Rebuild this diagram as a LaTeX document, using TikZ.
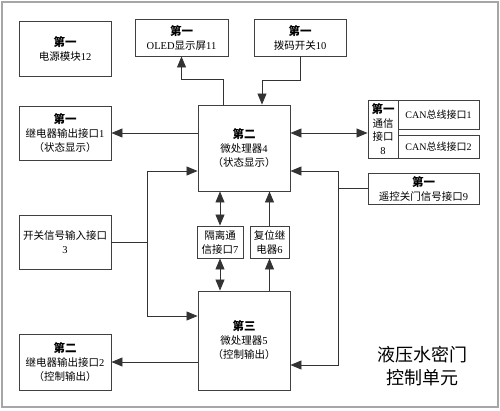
\documentclass[tikz,border=0pt]{standalone}
\usepackage{fontspec}
\setmainfont{Liberation Serif}
\newfontfamily\cjk{Noto Sans CJK SC}
\usetikzlibrary{arrows.meta}
\newcommand\hd[1]{{\fontsize{11.5}{14}\selectfont\bfseries #1}}
\newcommand\lt[1]{{\rmfamily #1}}
\tikzset{
 box/.style={draw=black!75, line width=0.9pt, fill=white, inner sep=0pt, align=center,
   font=\cjk\fontsize{10.5}{14}\selectfont, text=black},
 ln/.style={draw=black!80, line width=0.8pt},
 arr/.style={ln, -{Triangle[length=11pt,width=9pt]}},
 darr/.style={ln, {Triangle[length=11pt,width=9pt]}-{Triangle[length=11pt,width=9pt]}},
}
\begin{document}
\begin{tikzpicture}[x=1pt,y=-1pt]
\useasboundingbox (0,0) rectangle (500,410);
\draw[black!35, line width=1.5pt] (2,2) rectangle (498,407);

% boxes
\node[box, minimum width=92pt, minimum height=55pt] (n12) at (65,48.5) {\hd{第一}\\电源模块\lt{12}};
\node[box, minimum width=93pt, minimum height=37pt] (n11) at (181.5,37.5) {\hd{第一}\\\lt{OLED}显示屏\lt{11}};
\node[box, minimum width=92pt, minimum height=37pt] (n10) at (300,37.5) {\hd{第一}\\拨码开关\lt{10}};
\node[box, minimum width=92pt, minimum height=54pt] (n1) at (65,133) {\hd{第一}\\继电器输出接口\lt{1}\\（状态显示）};
\node[box, minimum width=92pt, minimum height=86pt] (n4) at (244,148) {\hd{第二}\\微处理器\lt{4}\\（状态显示）};
\node[box, minimum width=30pt, minimum height=58pt, font=\cjk\fontsize{10.5}{13.5}\selectfont] (n8) at (383,129) {\hd{第一}\\通信\\接口\\\lt{8}};
\node[box, minimum width=81pt, minimum height=29pt, font=\cjk\fontsize{10}{13}\selectfont] (can1) at (438.5,114.5) {\lt{CAN}总线接口\lt{1}};
\node[box, minimum width=81pt, minimum height=23pt, font=\cjk\fontsize{10}{13}\selectfont] (can2) at (438.5,146.5) {\lt{CAN}总线接口\lt{2}};
\node[box, minimum width=111pt, minimum height=31pt] (n9) at (423.5,188.5) {\hd{第一}\\遥控关门信号接口\lt{9}};
\node[box, minimum width=92pt, minimum height=54pt] (n3) at (65,242) {开关信号输入接口\\\lt{3}};
\node[box, minimum width=46pt, minimum height=32pt] (n7) at (220,242) {隔离通\\信接口\lt{7}};
\node[box, minimum width=39pt, minimum height=32pt] (n6) at (269.5,242) {复位继\\电器\lt{6}};
\node[box, minimum width=92pt, minimum height=99pt] (n5) at (244,340.5) {\hd{第三}\\微处理器\lt{5}\\（控制输出）};
\node[box, minimum width=92pt, minimum height=56pt] (n2) at (65,362) {\hd{第二}\\继电器输出接口\lt{2}\\（控制输出）};
\node[font=\cjk\fontsize{18}{23}\selectfont, align=center, text=black] (title) at (422,366) {液压水密门\\控制单元};

% connectors
\draw[arr] ([xshift=-21pt]n4.north) -- ++(0,-25) -| (n11);
\draw[arr] (n10.south) -- ++(0,24) -| ([xshift=18pt]n4.north);
\draw[arr] (n4.west |- n1.east) -- (n1.east);
\coordinate (c8) at ([yshift=-4pt]n8.west);
\draw[darr] (n4.east |- c8) -- (c8);

\coordinate (j9) at (338,188.5);
\draw[ln] (n9.west) -- (j9);
\draw[arr] (j9) |- ([yshift=-23pt]n4.east);
\draw[arr] (j9) |- ([yshift=-24.5pt]n5.east);

\coordinate (j3) at (147,242);
\draw[ln] (n3.east) -- (j3);
\draw[arr] (j3) |- ([yshift=-23pt]n4.west);
\draw[arr] (j3) |- ([yshift=24.5pt]n5.west);

\draw[darr] (n7.north |- n4.south) -- (n7.north);
\draw[darr] (n7.south) -- (n7.south |- n5.north);
\draw[arr] (n6.south |- n5.north) -- (n6.south);
\draw[arr] (n6.north) -- (n6.north |- n4.south);
\draw[arr] (n5.west |- n2.east) -- (n2.east);
\end{tikzpicture}
\end{document}
